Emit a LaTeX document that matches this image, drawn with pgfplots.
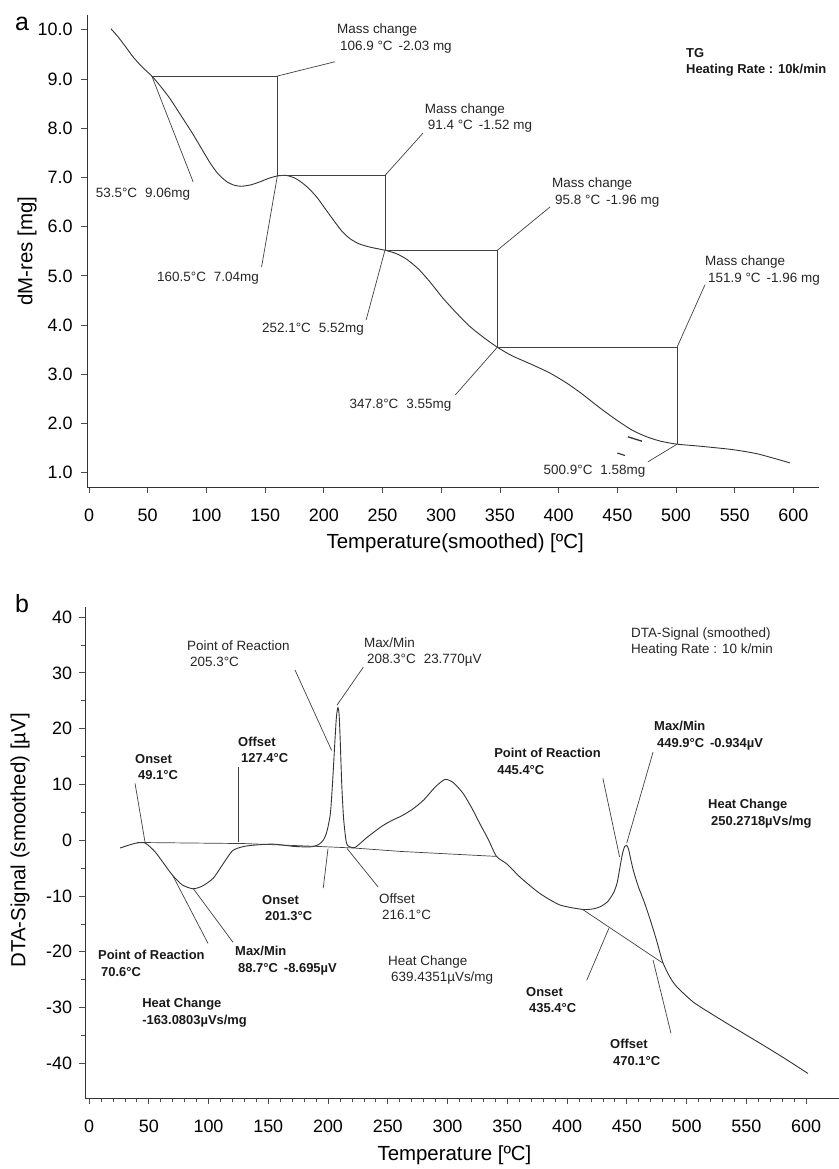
\documentclass[border=0pt]{standalone}
\usepackage{fontspec}
\setmainfont{Liberation Sans}
\usepackage{pgfplots}
\pgfplotsset{compat=1.18}
\tikzset{
  ann/.style={draw=black!75, line width=0.7bp, no markers},
  crv/.style={draw=black!80, line width=0.9bp, no markers, smooth, tension=0.4},
  lab/.style={font=\fontsize{13.5}{16.5}\selectfont, inner sep=0pt, align=left, text=black!85},
  labb/.style={font=\bfseries\fontsize{13}{16.5}\selectfont, inner sep=0pt, align=left, text=black!90},
}
\pgfplotsset{
  common/.style={
    scale only axis, clip=false,
    axis lines=left,
    axis line style={-, line width=0.9bp, black!80},
    tick align=outside,
    major tick length=6bp,
    minor tick length=3.5bp,
    tick style={black!70, line width=0.7bp},
    ticklabel style={font=\fontsize{18}{20}\selectfont},
    label style={font=\fontsize{20.5}{22}\selectfont},
    xtick={0,50,...,600},
    xticklabels={0,50,100,150,200,250,300,350,400,450,500,550,600},
    xticklabel style={yshift=-12bp},
  }
}
\begin{document}
\begin{tikzpicture}
\path[use as bounding box] (0,0) rectangle (839bp,1169bp);
% ---------------- Panel a ----------------
\begin{axis}[common,
  at={(87bp,682bp)}, anchor=south west,
  width=732bp, height=472bp,
  xmin=-1.7, xmax=621.8, ymin=0.71, ymax=10.3,
  ytick={1,2,...,10},
  yticklabels={1.0,2.0,3.0,4.0,5.0,6.0,7.0,8.0,9.0,10.0},
  yticklabel style={xshift=-5bp},
  xlabel={Temperature(smoothed) [ºC]},
  ylabel={dM-res [mg]},
  xlabel style={at={(axis description cs:0.503,-0.119)}, anchor=center},
  ylabel style={at={(axis description cs:-0.082,0.5)}, anchor=center},
]
\addplot[crv] coordinates {
(18.7,10.02)(25,9.85)(31,9.66)(37.5,9.45)(45,9.25)(53.5,9.06)(61,8.85)(69,8.6)(78,8.27)
(88,7.9)(96,7.58)(103,7.3)(110,7.07)(117.5,6.91)(124,6.84)(130,6.82)(138,6.85)
(145.6,6.91)(153,6.98)(160.5,7.03)(168,7.04)(175,6.99)(181,6.9)(187,6.78)(194,6.6)
(201,6.37)(208,6.14)(215,5.92)(222,5.76)(230,5.65)(240,5.58)(252.1,5.52)(262,5.45)
(271,5.33)(281,5.13)(291,4.86)(301,4.56)(312,4.27)(324,3.98)(336,3.75)(347.8,3.55)
(360,3.38)(378,3.19)(393,3.02)(407,2.82)(420,2.6)(435,2.32)(450,2.06)(463,1.86)
(475,1.73)(487,1.64)(500.9,1.58)(520,1.54)(548,1.47)(570,1.38)(597,1.2)};
% construction lines
\addplot[ann] coordinates {(53.5,9.06)(160.5,9.06)(160.5,7.04)(252.1,7.04)(252.1,5.52)(347.8,5.52)(347.8,3.55)(500.9,3.55)(500.9,1.58)};
\addplot[ann] coordinates {(160.5,9.06)(209.5,9.35)};
\addplot[ann] coordinates {(53.5,9.06)(88.7,6.91)};
\addplot[ann] coordinates {(252.1,7.04)(284.5,7.9)};
\addplot[ann] coordinates {(160.5,7.04)(147,5.18)};
\addplot[ann] coordinates {(347.8,5.52)(392.7,6.4)};
\addplot[ann] coordinates {(252.1,5.52)(236,4.1)};
\addplot[ann] coordinates {(500.9,3.55)(524.7,4.82)};
\addplot[ann] coordinates {(347.8,3.55)(312,2.58)};
\addplot[ann] coordinates {(500.9,1.58)(476,1.22)};
\addplot[draw=black!80, line width=1.3bp] coordinates {(459,1.73)(471,1.64)};
\addplot[draw=black!80, line width=1.1bp] coordinates {(450,1.40)(456.5,1.35)};
% labels
\node[lab, anchor=north west] at (axis cs:211.2,10.12) {Mass change\\\hspace{3bp}106.9 °C\hspace{6bp}-2.03 mg};
\node[lab, anchor=north west] at (axis cs:286,8.5) {Mass change\\\hspace{3bp}91.4 °C\hspace{6bp}-1.52 mg};
\node[lab, anchor=north west] at (axis cs:394.4,6.99) {Mass change\\\hspace{3bp}95.8 °C\hspace{6bp}-1.96 mg};
\node[lab, anchor=north west] at (axis cs:524.7,5.41) {Mass change\\\hspace{3bp}151.9 °C\hspace{6bp}-1.96 mg};
\node[labb, anchor=north west] at (axis cs:508.5,9.63) {TG\\Heating Rate : 10k/min};
\node[lab] at (axis cs:46,6.65) {53.5°C\hspace{8bp}9.06mg};
\node[lab] at (axis cs:101.4,4.96) {160.5°C\hspace{8bp}7.04mg};
\node[lab] at (axis cs:190.8,3.92) {252.1°C\hspace{8bp}5.52mg};
\node[lab] at (axis cs:265.3,2.38) {347.8°C\hspace{8bp}3.55mg};
\node[lab] at (axis cs:430.6,1.04) {500.9°C\hspace{8bp}1.58mg};
\end{axis}
% ---------------- Panel b ----------------
\begin{axis}[common,
  at={(85bp,71bp)}, anchor=south west,
  width=754bp, height=491bp,
  xmin=-3.35, xmax=627.6, ymin=-46.2, ymax=41.8,
  ytick={-40,-30,...,40},
  yticklabels={-40,-30,-20,-10,0,10,20,30,40},
  yticklabel style={xshift=-3.5bp},
  minor x tick num=4, minor y tick num=1,
  xlabel={Temperature [ºC]},
  ylabel={DTA-Signal (smoothed) [µV]},
  xlabel style={at={(axis description cs:0.49,-0.116)}, anchor=center},
  ylabel style={at={(axis description cs:-0.086,0.525)}, anchor=center},
]
\addplot[crv] coordinates {
(26,-1.4)(33,-0.9)(40,-0.5)(47,-0.5)(55,-2.0)(62,-4.0)(70,-6.3)(78,-8.0)(87,-8.7)
(95,-8.2)(104,-6.8)(112,-4.3)(120,-1.9)(128,-1.2)(137,-0.9)(154,-0.7)(171,-1.1)
(185,-1.2)(192,-0.8)(196,0)(199,1.5)(202,4.8)(204,11)(205.3,16)(207,22)(208.3,23.77)
(209.3,22.5)(210.2,18)(211.5,10)(213,4)(215,0)(216.7,-1.0)(222.6,-1.3)(232.6,0.5)
(245,2.5)(254,3.6)(262,4.4)(271,5.6)(280,7.2)(290,9.6)(298,10.9)(305,10.3)(313,8.4)
(320,5.9)(327,3.0)(334,0.2)(341,-2.9)(350,-4.3)(360.6,-6.6)(377,-9.5)(394,-11.6)
(413,-12.4)(422,-12.3)(428,-11.9)(434,-11.0)(439,-9.4)(442,-7.6)(444.5,-4.6)(446.5,-2.3)
(448.3,-1.1)(449.9,-0.93)(451.5,-1.6)(453.5,-3.6)(456,-5.8)(460,-8.5)(465,-11.3)(470,-14.5)
(475,-18)(480,-21.8)(486,-24.5)(492,-26.3)(505.6,-29)(520,-31)(539,-33.5)(567,-37.1)(585,-39.5)(601.6,-41.8)};
% baselines
\addplot[ann] coordinates {(40,-0.4)(130,-0.6)(190,-1.1)(222,-1.4)(260,-2.0)(341,-2.9)};
\addplot[ann] coordinates {(413,-12.4)(480,-22.0)};
% leaders
\addplot[ann] coordinates {(47,-0.5)(38.5,10.2)};
\addplot[ann] coordinates {(125,-0.4)(125,13.1)};
\addplot[ann] coordinates {(70,-6.3)(99.6,-18.5)};
\addplot[ann] coordinates {(87,-8.6)(120.5,-18.3)};
\addplot[ann] coordinates {(203,16.1)(172.4,30.5)};
\addplot[ann] coordinates {(207.5,24.2)(229.5,31)};
\addplot[ann] coordinates {(200,-1.5)(196,-8.6)};
\addplot[ann] coordinates {(216,-1.5)(242,-8.4)};
\addplot[ann] coordinates {(430,11.1)(444,-3.0)};
\addplot[ann] coordinates {(472,15.8)(450,-0.5)};
\addplot[ann] coordinates {(435,-15.8)(416.5,-25.1)};
\addplot[ann] coordinates {(472,-21.5)(487,-34.6)};
% labels
\node[labb, anchor=north west] at (axis cs:38.5,15.4) {Onset\\\hspace{3bp}49.1°C};
\node[labb, anchor=north west] at (axis cs:124.7,18.6) {Offset\\\hspace{3bp}127.4°C};
\node[lab, anchor=north west] at (axis cs:82,35.8) {Point of Reaction\\\hspace{3bp}205.3°C};
\node[lab, anchor=north west] at (axis cs:230,36.4) {Max/Min\\\hspace{3bp}208.3°C\hspace{8bp}23.770µV};
\node[lab, anchor=north west] at (axis cs:453.5,38.2) {DTA-Signal (smoothed)\\Heating Rate : 10 k/min};
\node[labb, anchor=north west] at (axis cs:339,16.5) {Point of Reaction\\\hspace{3bp}445.4°C};
\node[labb, anchor=north west] at (axis cs:472.8,21.3) {Max/Min\\\hspace{3bp}449.9°C\hspace{6bp}-0.934µV};
\node[labb, anchor=north west] at (axis cs:518,7.35) {Heat Change\\\hspace{3bp}250.2718µVs/mg};
\node[labb, anchor=north west] at (axis cs:144.8,-9.86) {Onset\\\hspace{3bp}201.3°C};
\node[lab, anchor=north west] at (axis cs:242.7,-9.5) {Offset\\\hspace{3bp}216.1°C};
\node[lab, anchor=north west] at (axis cs:250.2,-20.6) {Heat Change\\\hspace{3bp}639.4351µVs/mg};
\node[labb, anchor=north west] at (axis cs:7.5,-19.7) {Point of Reaction\\\hspace{3bp}70.6°C};
\node[labb, anchor=north west] at (axis cs:122.2,-19.0) {Max/Min\\\hspace{3bp}88.7°C\hspace{6bp}-8.695µV};
\node[labb, anchor=north west] at (axis cs:44.4,-28.3) {Heat Change\\-163.0803µVs/mg};
\node[labb, anchor=north west] at (axis cs:365.7,-26.3) {Onset\\\hspace{3bp}435.4°C};
\node[labb, anchor=north west] at (axis cs:436,-35.7) {Offset\\\hspace{3bp}470.1°C};
\end{axis}
\node[font=\fontsize{25}{25}\selectfont] at (22bp,1145bp) {a};
\node[font=\fontsize{25}{25}\selectfont] at (22bp,565bp) {b};
\end{tikzpicture}
\end{document}
